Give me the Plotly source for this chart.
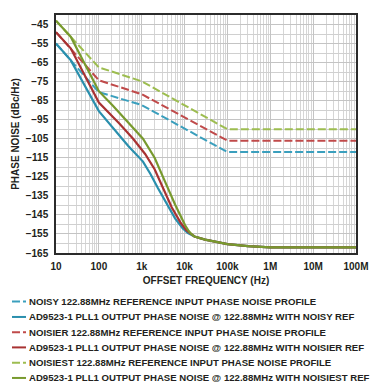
import plotly.graph_objects as go

# ---------------- data ----------------
series_names = [
    "NOISY 122.88MHz REFERENCE INPUT PHASE NOISE PROFILE",
    "AD9523-1 PLL1 OUTPUT PHASE NOISE @ 122.88MHz WITH NOISY REF",
    "NOISIER 122.88MHz REFERENCE INPUT PHASE NOISE PROFILE",
    "AD9523-1 PLL1 OUTPUT PHASE NOISE @ 122.88MHz WITH NOISIER REF",
    "NOISIEST 122.88MHz REFERENCE INPUT PHASE NOISE PROFILE",
    "AD9523-1 PLL1 OUTPUT PHASE NOISE @ 122.88MHz WITH NOISIEST REF",
]

noisy_ref_f = [10, 100, 1000, 1e5, 1e8]
noisy_ref_db = [-55, -80.5, -87.3, -112, -112]

noisy_out_f = [10, 22, 100, 480, 1070, 1600, 2400, 4000, 6000, 9000, 12000, 17000, 30000, 1e5, 3e5, 1e6, 1e8]
noisy_out_db = [-55, -63.7, -90.5, -108.7, -117, -123.5, -131, -140, -146.8, -152, -154.6, -156.3, -158, -160.3, -161.4, -162, -162]

noisier_ref_f = [10, 100, 1000, 1e5, 1e8]
noisier_ref_db = [-49, -74.3, -81.6, -106, -106]

noisier_out_f = [10, 22, 100, 300, 630, 1200, 2000, 3140, 5000, 8240, 11000, 13400, 17000, 30000, 1e5, 3e5, 1e6, 1e8]
noisier_out_db = [-49, -57.5, -86, -97, -105, -113, -121, -131, -141, -149.4, -153, -154.6, -156.3, -158, -160.3, -161.4, -162, -162]

noisiest_ref_f = [10, 100, 1000, 1e5, 1e8]
noisiest_ref_db = [-43, -67.5, -74.8, -100, -100]

noisiest_out_f = [10, 22, 100, 213, 1070, 2000, 3500, 6000, 10300, 12500, 14500, 17000, 30000, 1e5, 3e5, 1e6, 1e8]
noisiest_out_db = [-43, -51.4, -80, -87.7, -105, -115, -127.5, -139.5, -150.4, -153.5, -155.1, -156.3, -158, -160.3, -161.4, -162, -162]

x_tick_vals = [10, 100, 1e3, 1e4, 1e5, 1e6, 1e7, 1e8]
x_tick_text = ["10", "100", "1k", "10k", "100k", "1M", "10M", "100M"]
y_tick_vals = list(range(-165, -44, 10))

# ---------------- styling ----------------
colors = ["#3a9fbd", "#2a8fad", "#c04a4a", "#a83232", "#9dbd50", "#789a2e"]
dashes = ["8px,3px", "solid", "8px,3px", "solid", "8px,3px", "solid"]
widths = [2.0, 2.2, 2.0, 2.2, 2.0, 2.2]

xs = [noisy_ref_f, noisy_out_f, noisier_ref_f, noisier_out_f, noisiest_ref_f, noisiest_out_f]
ys = [noisy_ref_db, noisy_out_db, noisier_ref_db, noisier_out_db, noisiest_ref_db, noisiest_out_db]

FONT = "Liberation Sans, Arial, sans-serif"
TXT = "#231f20"

fig = go.Figure()
for name, x, y, c, d, w in zip(series_names, xs, ys, colors, dashes, widths):
    fig.add_trace(go.Scatter(x=x, y=y, mode="lines", name=name,
                             line=dict(color=c, dash=d, width=w),
                             showlegend=False))

W, H = 381, 382
L, R, T, B = 48, 33, 5, 137
pw, ph = W - L - R, H - T - B

def px2paper(px, py):
    return (px - L) / pw, (H - B - py) / ph

minor_x = [m * 10 ** e for e in range(1, 8) for m in range(2, 10)]

fig.update_xaxes(
    type="log", range=[1, 8],
    tickvals=x_tick_vals, ticktext=x_tick_text,
    showgrid=True, gridcolor="#c4c4c4", gridwidth=1,
    minor=dict(tickvals=minor_x, showgrid=True, gridcolor="#d6d6d6", gridwidth=1, ticks=""),
    showline=True, linecolor="#2b2b2b", linewidth=1.5, mirror=True,
    ticks="", ticklabelstandoff=3,
    tickfont=dict(family=FONT, size=10, color=TXT, weight="bold"),
    title=dict(text="OFFSET FREQUENCY (Hz)", standoff=6,
               font=dict(family=FONT, size=10, color=TXT, weight="bold")),
    zeroline=False,
)
fig.update_yaxes(
    range=[-165, -40],
    tickvals=y_tick_vals,
    showgrid=True, gridcolor="#c4c4c4", gridwidth=1,
    minor=dict(dtick=10, tick0=-40, showgrid=True, gridcolor="#d0d0d0", gridwidth=1, ticks=""),
    showline=True, linecolor="#2b2b2b", linewidth=1.5, mirror=True,
    ticks="", ticklabelstandoff=4,
    tickfont=dict(family=FONT, size=10, color=TXT, weight="bold"),
    title=dict(text="PHASE NOISE (dBc/Hz)", standoff=4,
               font=dict(family=FONT, size=10, color=TXT, weight="bold")),
    zeroline=False,
)

# manual legend below the chart
row_y = [294, 309.5, 324.8, 340.2, 355.6, 371]
for name, c, d, yy in zip(series_names, colors, dashes, row_y):
    x0, y0 = px2paper(4, yy)
    x1, _ = px2paper(18, yy)
    fig.add_shape(type="line", xref="paper", yref="paper", x0=x0, x1=x1, y0=y0, y1=y0,
                  line=dict(color=c, width=2, dash=d))
    tx, _ = px2paper(20, yy)
    fig.add_annotation(xref="paper", yref="paper", x=tx, y=y0, text=name,
                       showarrow=False, xanchor="left", yanchor="middle", borderpad=0,
                       font=dict(family=FONT, size=9.6, color=TXT, weight="bold"))

fig.update_layout(
    width=W, height=H,
    margin=dict(l=L, r=R, t=T, b=B, pad=0),
    paper_bgcolor="white", plot_bgcolor="white",
    showlegend=False,
)

fig.write_html("out.html")
